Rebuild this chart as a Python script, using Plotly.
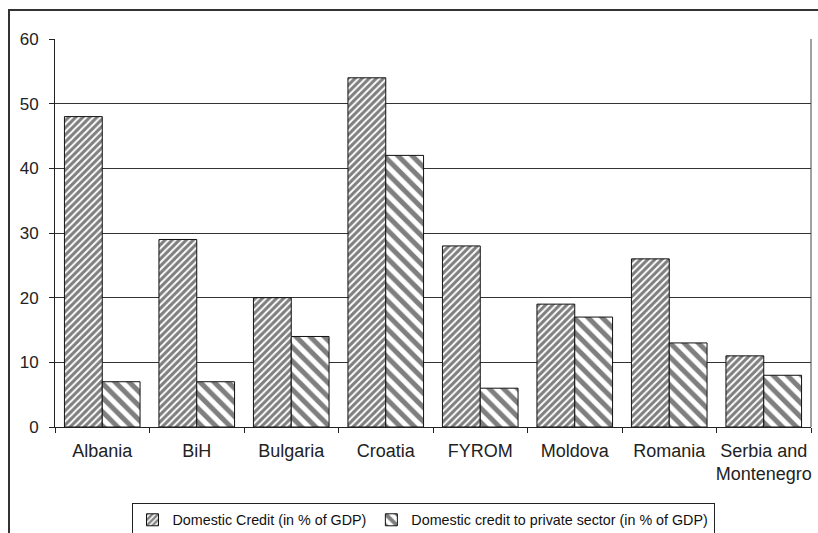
import plotly.graph_objects as go

categories = ["Albania", "BiH", "Bulgaria", "Croatia", "FYROM", "Moldova", "Romania", "Serbia and<br>Montenegro"]
domestic_credit = [48, 29, 20, 54, 28, 19, 26, 11]
private_credit = [7, 7, 14, 42, 6, 17, 13, 8]
y_ticks = [0, 10, 20, 30, 40, 50, 60]

FONT = "Liberation Sans, Arial, sans-serif"

fig = go.Figure()
fig.add_trace(go.Bar(
    x=categories, y=domestic_credit,
    name="Domestic Credit (in % of GDP)",
    marker=dict(color="white", line=dict(color="#111", width=1),
                pattern=dict(shape="/", size=5, solidity=0.62, fgcolor="black", bgcolor="white")),
))
fig.add_trace(go.Bar(
    x=categories, y=private_credit,
    name="Domestic credit to private sector (in % of GDP)",
    marker=dict(color="white", line=dict(color="#111", width=1),
                pattern=dict(shape="\\", size=10, solidity=0.5, fgcolor="black", bgcolor="white")),
))

W, H = 818, 533
L, R, T, B = 55, 7, 39, 106
pw = W - L - R
ph = H - T - B

def px_x(p):
    return (p - L) / pw

def px_y(p):
    return (H - B - p) / ph

fig.add_shape(type="rect", xref="paper", yref="paper",
              x0=px_x(9), x1=px_x(900), y0=px_y(650), y1=px_y(10),
              line=dict(color="#333", width=2), fillcolor="rgba(0,0,0,0)", layer="below")

fig.update_layout(
    width=W, height=H,
    margin=dict(l=L, r=R, t=T, b=B, autoexpand=False),
    paper_bgcolor="white", plot_bgcolor="white",
    barmode="group", bargap=0.2, bargroupgap=0,
    font=dict(family=FONT, size=17, color="#222"),
    showlegend=True,
    legend=dict(orientation="h", x=px_x(423), xanchor="center", y=px_y(503), yanchor="top",
                bordercolor="#222", borderwidth=1, font=dict(size=14.3, family=FONT, color="#111"),
                itemwidth=30, tracegroupgap=0, bgcolor="white"),
    xaxis=dict(showline=True, linecolor="#222", linewidth=1, mirror=False,
               ticks="outside", ticklen=5, tickcolor="#222", tickson="boundaries",
               ticklabelstandoff=7, tickangle=0, automargin=False,
               showgrid=False, tickfont=dict(size=18)),
    yaxis=dict(range=[0, 60], tickvals=y_ticks, showline=True, linecolor="#222", linewidth=1,
               ticks="outside", ticklen=5, tickcolor="#222", ticklabelstandoff=7, automargin=False,
               showgrid=True, gridcolor="#333", gridwidth=1, zeroline=False,
               tickfont=dict(size=17)),
)
fig.add_shape(type="line", xref="paper", yref="paper", x0=1, x1=1, y0=0, y1=1,
              line=dict(color="#444", width=1))

fig.write_html("out.html")
